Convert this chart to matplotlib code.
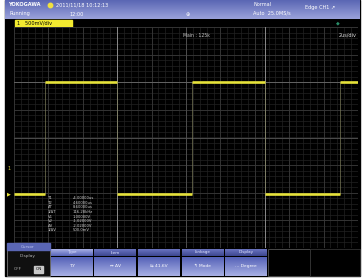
import matplotlib.pyplot as plt
import numpy as np

# waveform (time in us, level in V)
edge_times = [-10.0, -8.2, -4.0, 0.35, 4.6, 8.95, 10.0]
levels = [-1.02, 1.0, -1.02, 1.0, -1.02, 1.0]
cursor_times = [-4.0, 4.6]
cursor_level = 1.0

meas_labels = ["T1", "T2", "\u0394T", "1/\u0394T", "V1", "V2", "\u0394V", "1/\u0394V"]
meas_values = ["-4.00000us", "4.60000us", "8.60000us", "116.28kHz",
               "1.00000V", "-1.02000V", "-2.02000V", "500.0mV"]

menu_heads = ["Type", "Item", "", "Linkage", "Display"]
menu_bodies = ["T-Y", "\u2194 \u0394V", "\u21c6 41.6V", "\u21b0 Mode", "\u2026 Degree"]

W, H = 363, 278
fig = plt.figure(figsize=(W / 100, H / 100), dpi=100)
fig.patch.set_facecolor("white")

# overlay axes in pixel coordinates
ov = fig.add_axes([0, 0, 1, 1])
ov.axis("off")

# screen background
ov.add_patch(plt.Rectangle((5, 0), 355, 276, color="black", zorder=0))

# top blue bar with gradient
grad = np.linspace(0, 1, 50).reshape(-1, 1)
bar_cmap = plt.matplotlib.colors.LinearSegmentedColormap.from_list("bar", ["#5a66b4", "#9aa2da"])
ov.imshow(grad, extent=(5, 360, 19, 0), cmap=bar_cmap, aspect="auto", zorder=1)
tk = dict(color="white", fontsize=3.6, va="center", zorder=3)
ov.text(8, 5, "YOKOGAWA", fontweight="bold", **tk)
ov.plot(50, 5, "o", ms=3.2, color="#f0e040", zorder=3)
ov.text(56, 5, "2011/11/18 10:12:13", **tk)
ov.text(10, 14, "Running", **tk)
ov.text(70, 14, "12:00", **tk)
ov.text(186, 14, "\u2295", **tk)
ov.text(253, 5, "Normal", **tk)
ov.text(253, 13, "Auto  25.0MS/s", **tk)
ov.text(305, 7, "Edge CH1 \u2197", **tk)

# yellow channel label
ov.add_patch(plt.Rectangle((15, 19.5), 57, 7.5, color="#f2ea30", zorder=2))
ov.text(17, 23.3, "1   500mV/div", color="black", fontsize=3.6, va="center", zorder=3)
ov.text(336, 23, "\u25c6", color="#2a8f6a", fontsize=3.5, va="center", zorder=3)

# bottom menu
ov.add_patch(plt.Rectangle((7, 250), 43, 26, facecolor="#101010", edgecolor="#777777", lw=0.6, zorder=2))
ov.text(28, 256, "Display", color="#b0b0b0", fontsize=3.2, ha="center", va="center", zorder=3)
ov.text(14, 269, "OFF", color="#b0b0b0", fontsize=3.0, va="center", zorder=3)
ov.add_patch(plt.Rectangle((34, 265.5), 9, 7, color="#c8c8c8", zorder=3))
ov.text(38.5, 269, "ON", color="black", fontsize=3.0, ha="center", va="center", zorder=4)

body_cmap = plt.matplotlib.colors.LinearSegmentedColormap.from_list("btn", ["#5562b8", "#a8b0e4"])
head_cmap = plt.matplotlib.colors.LinearSegmentedColormap.from_list("hd", ["#3c4690", "#6a74c0"])
xs = np.linspace(50, 268, len(menu_heads) + 1)
for i, (hd, bd) in enumerate(zip(menu_heads, menu_bodies)):
    x0, x1 = xs[i] + 0.8, xs[i + 1] - 0.8
    ov.imshow(grad, extent=(x0, x1, 249, 256), cmap=head_cmap if i else body_cmap,
              aspect="auto", zorder=2)
    ov.imshow(grad, extent=(x0, x1, 276, 257), cmap=body_cmap, aspect="auto", zorder=2)
    ov.text((x0 + x1) / 2, 252.5, hd, color="#e0e4ff", fontsize=3.0, ha="center", va="center", zorder=3)
    ov.text((x0 + x1) / 2, 266, bd, color="white", fontsize=3.2, ha="center", va="center", zorder=3)
ov.add_patch(plt.Rectangle((268, 249), 42, 27, facecolor="black", edgecolor="#555555", lw=0.6, zorder=2))
ov.add_patch(plt.Rectangle((310, 249), 50, 27, facecolor="black", edgecolor="#333333", lw=0.6, zorder=2))
ov.set_xlim(0, W)
ov.set_ylim(H, 0)

# waveform axes on the grid
ax = fig.add_axes([14 / W, 1 - 248 / H, 344 / W, 221 / H])
ax.set_facecolor("black")
ax.set_xlim(-10, 10)
ax.set_ylim(-2, 2)
for t in np.arange(-10, 10.01, 0.4):
    ax.axvline(t, color="#222222", lw=0.5, zorder=1)
for v in np.arange(-2, 2.01, 0.1):
    ax.axhline(v, color="#222222", lw=0.5, zorder=1)
for t in np.arange(-10, 10.01, 2):
    ax.axvline(t, color="#383838", lw=0.6, zorder=1)
for v in np.arange(-2, 2.01, 0.5):
    ax.axhline(v, color="#383838", lw=0.6, zorder=1)
ax.axvline(0, color="#505050", lw=0.6, zorder=1)
ax.axhline(0, color="#505050", lw=0.6, zorder=1)

for t in cursor_times:
    ax.axvline(t, color="#8a8a8a", lw=0.7, zorder=2)
ax.axhline(cursor_level, color="#6a6a6a", lw=0.6, zorder=2)

for i, lev in enumerate(levels):
    ax.hlines(lev, edge_times[i], edge_times[i + 1], color="#e6e23a", lw=1.9, zorder=4)
    if i > 0:
        ax.vlines(edge_times[i], levels[i - 1], lev, color="#7a7a58", lw=0.5, zorder=3)

ax.set_xticks([])
ax.set_yticks([])
for s in ax.spines.values():
    s.set_visible(False)

ax.text(0.49, 0.975, "Main : 125k", transform=ax.transAxes, color="#c8c8c8",
        fontsize=3.3, va="top", ha="left", zorder=5)
ax.text(0.995, 0.975, "2us/div", transform=ax.transAxes, color="#e0e0e0",
        fontsize=3.6, va="top", ha="right", zorder=5)

for i, (lab, val) in enumerate(zip(meas_labels, meas_values)):
    ax.text(-8.05, -1.1 - i * 0.083, lab, color="#d0d0d0", fontsize=2.7, va="center", zorder=5)
    ax.text(-6.6, -1.1 - i * 0.083, val, color="#d0d0d0", fontsize=2.7, va="center", zorder=5)

# items drawn over the grid edge (transparent top overlay)
top = fig.add_axes([0, 0, 1, 1])
top.patch.set_alpha(0)
top.axis("off")
top.add_patch(plt.Rectangle((7, 243), 43, 7, color="#5a66b4", zorder=2))
top.text(28, 246.5, "Cursor", color="#c0c8f0", fontsize=3.0, ha="center", va="center", zorder=3)
top.text(8, 168, "1", color="#d8d040", fontsize=3.6, va="center", zorder=3)
top.text(7, 194, "\u25b6", color="#e6e23a", fontsize=3.6, va="center", zorder=3)
top.set_xlim(0, W)
top.set_ylim(H, 0)

fig.savefig("out.png", dpi=100, facecolor="white")
